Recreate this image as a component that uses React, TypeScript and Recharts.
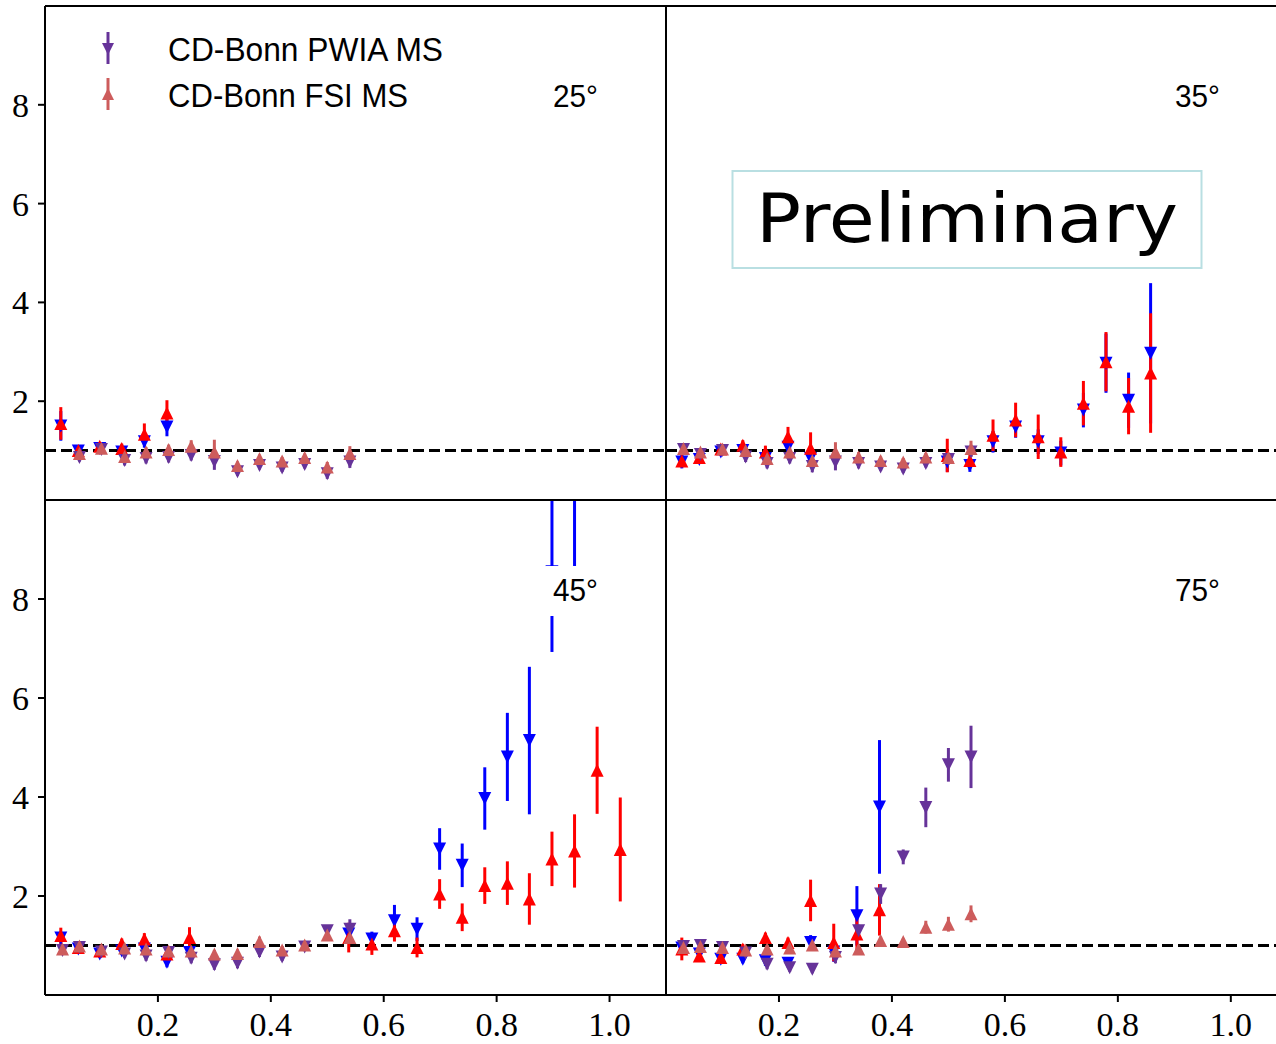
import React from "react";
import { ScatterChart, Scatter, XAxis, YAxis, ErrorBar, ReferenceLine } from "recharts";

// momentum bins (data points and model points sit slightly apart)
const X_DATA = [0.028, 0.059, 0.097, 0.136, 0.176, 0.216, 0.256, 0.297, 0.338, 0.378, 0.418, 0.458, 0.498, 0.538, 0.579, 0.619, 0.659, 0.699, 0.739, 0.779, 0.819, 0.858, 0.898, 0.938, 0.978, 1.019];
const X_MODEL = [0.031, 0.061, 0.100, 0.141, 0.179, 0.219, 0.259, 0.300, 0.341, 0.380, 0.420, 0.460, 0.500, 0.540];

const X_TICKS = [0.2, 0.4, 0.6, 0.8, 1.0];
const Y_TICKS = [2, 4, 6, 8];

// 25 deg
const D25_PWIA = [1.50, 0.99, 1.04, 0.97, 1.18, 1.48];
const D25_PWIA_ERR = [0.30, 0.08, 0.07, 0.08, 0.12, 0.19];
const D25_FSI = [1.55, 1.00, 1.09, 1.04, 1.33, 1.76];
const D25_FSI_ERR = [0.33, 0.10, 0.08, 0.10, 0.22, 0.26];
const M25_PWIA = [null, 0.86, 1.02, 0.80, 0.84, 0.86, 0.90, 0.78, 0.57, 0.70, 0.65, 0.72, 0.53, 0.77];
const M25_PWIA_ERR = [null, 0.08, 0.08, 0.10, 0.10, 0.10, 0.10, 0.17, 0.08, 0.08, 0.08, 0.08, 0.10, 0.12];
const M25_FSI = [null, 0.94, 1.05, 0.88, 0.97, 1.02, 1.09, 0.97, 0.70, 0.84, 0.79, 0.86, 0.67, 0.94];
const M25_FSI_ERR = [null, 0.08, 0.08, 0.10, 0.10, 0.10, 0.12, 0.25, 0.08, 0.08, 0.08, 0.08, 0.10, 0.15];

// 35 deg
const D35_PWIA = [0.77, 0.82, 0.97, 1.00, 0.84, 1.07, 0.84, null, null, null, null, null, 0.77, 0.70, 1.18, 1.48, 1.18, 0.95, 1.82, 2.77, 2.02, 2.97];
const D35_PWIA_ERR = [0.13, 0.08, 0.07, 0.08, 0.12, 0.12, 0.15, null, null, null, null, null, 0.20, 0.13, 0.22, 0.22, 0.25, 0.25, 0.35, 0.60, 0.56, 1.42];
const D35_FSI = [0.79, 0.86, 1.03, 1.11, 0.97, 1.28, 1.05, null, null, null, null, null, 0.90, 0.80, 1.31, 1.62, 1.28, 0.97, 1.96, 2.80, 1.90, 2.57];
const D35_FSI_ERR = [0.12, 0.08, 0.08, 0.10, 0.13, 0.20, 0.32, null, null, null, null, null, 0.34, 0.12, 0.32, 0.35, 0.45, 0.30, 0.45, 0.60, 0.57, 1.21];
const M35_PWIA = [1.02, 0.92, 1.00, 0.87, 0.74, 0.84, 0.68, 0.77, 0.74, 0.67, 0.63, 0.74, 0.82, 0.97];
const M35_PWIA_ERR = [0.08, 0.08, 0.08, 0.10, 0.10, 0.10, 0.12, 0.17, 0.10, 0.08, 0.08, 0.08, 0.10, 0.10];
const M35_FSI = [1.04, 0.97, 1.03, 1.00, 0.84, 0.97, 0.80, 0.97, 0.87, 0.80, 0.77, 0.87, 0.86, 1.04];
const M35_FSI_ERR = [0.08, 0.08, 0.08, 0.10, 0.10, 0.10, 0.12, 0.20, 0.10, 0.08, 0.08, 0.08, 0.10, 0.16];

// 45 deg
const D45_PWIA = [1.15, 0.93, 0.83, 0.89, 0.93, 0.66, 0.86, null, null, null, null, null, null, 1.23, 1.13, 1.50, 1.33, 2.95, 2.62, 3.97, 4.81, 5.14, 8.55, 10.4, null, 12.1];
const D45_PWIA_ERR = [0.12, 0.07, 0.08, 0.08, 0.10, 0.10, 0.10, null, null, null, null, null, null, 0.20, 0.15, 0.32, 0.24, 0.42, 0.44, 0.63, 0.89, 1.49, 1.62, 2.20, null, 2.12];
const D45_FSI = [1.20, 0.96, 0.89, 1.04, 1.13, 0.83, 1.16, null, null, null, null, null, null, 1.16, 1.03, 1.30, 0.96, 2.04, 1.57, 2.21, 2.26, 1.94, 2.75, 2.91, 4.54, 2.94];
const D45_FSI_ERR = [0.16, 0.08, 0.08, 0.10, 0.12, 0.12, 0.21, null, null, null, null, null, null, 0.30, 0.22, 0.22, 0.20, 0.30, 0.28, 0.37, 0.44, 0.52, 0.55, 0.74, 0.88, 1.05];
const M45_PWIA = [0.90, 0.96, 0.87, 0.83, 0.79, 0.86, 0.74, 0.61, 0.64, 0.87, 0.77, 0.97, 1.30, 1.33];
const M45_PWIA_ERR = [0.08, 0.07, 0.07, 0.08, 0.10, 0.08, 0.10, 0.10, 0.10, 0.10, 0.08, 0.06, 0.10, 0.20];
const M45_FSI = [0.93, 0.99, 0.93, 0.95, 0.93, 0.89, 0.89, 0.83, 0.84, 1.08, 0.91, 1.01, 1.21, 1.16];
const M45_FSI_ERR = [0.08, 0.07, 0.07, 0.08, 0.08, 0.08, 0.08, 0.08, 0.08, 0.10, 0.08, 0.06, 0.10, 0.12];

// 75 deg
const D75_PWIA = [0.95, 0.83, 0.72, 0.72, 0.69, 0.64, 1.06, 0.87, 1.60, 3.80];
const D75_PWIA_ERR = [0.13, 0.08, 0.08, 0.08, 0.10, 0.08, 0.15, 0.20, 0.60, 1.35];
const D75_FSI = [0.93, 0.79, 0.76, 0.93, 1.16, 1.06, 1.91, 1.06, 1.23, 1.72];
const D75_FSI_ERR = [0.23, 0.10, 0.10, 0.10, 0.10, 0.10, 0.42, 0.38, 0.37, 0.52];
const M75_PWIA = [0.98, 1.00, 0.96, 0.85, 0.62, 0.55, 0.52, 0.76, 1.30, 2.04, 2.79, 3.79, 4.65, 4.81];
const M75_PWIA_ERR = [0.10, 0.08, 0.08, 0.08, 0.10, 0.08, 0.08, 0.12, 0.12, 0.20, 0.15, 0.40, 0.34, 0.63];
const M75_FSI = [0.96, 0.98, 0.96, 0.91, 0.93, 0.95, 1.01, 0.89, 0.93, 1.10, 1.08, 1.37, 1.43, 1.64];
const M75_FSI_ERR = [0.08, 0.08, 0.08, 0.08, 0.08, 0.08, 0.08, 0.08, 0.08, 0.08, 0.06, 0.13, 0.15, 0.17];

const BLUE = "#0000ff";
const RED = "#ff0000";
const PURPLE = "#663399";
const SALMON = "#cd5c5c";

type Pt = { x: number; y: number; e: number };

function rows(xs: number[], ys: (number | null)[], es: (number | null)[]): Pt[] {
  const out: Pt[] = [];
  ys.forEach((y, i) => {
    if (y != null) out.push({ x: xs[i], y, e: es[i] ?? 0 });
  });
  return out;
}

const tri = (color: string, down: boolean, s = 6.5) => (p: any) => {
  if (p.cx == null || p.cy == null) return <g />;
  const { cx, cy } = p;
  const pts = down
    ? `${cx - s},${cy - s} ${cx + s},${cy - s} ${cx},${cy + s}`
    : `${cx - s},${cy + s} ${cx + s},${cy + s} ${cx},${cy - s}`;
  return <polygon points={pts} fill={color} />;
};
const nothing = () => <g />;

type Series = { data: Pt[]; color: string; down: boolean };

const AXIS = { stroke: "#000", strokeWidth: 2 };
const TICK_FONT = { fontFamily: "'Liberation Serif', serif", fontSize: 34, fill: "#000" };

function Panel({ left, top, width, height, yWidth, xMax, bottom, labels, series }: {
  left: number; top: number; width: number; height: number; yWidth: number; xMax: number;
  bottom: boolean; labels: boolean; series: Series[];
}) {
  return (
    <div style={{ position: "absolute", left, top }}>
      <ScatterChart width={width} height={height} margin={{ top: 0, right: labels ? 1 : 0, bottom: 0, left: 0 }}>
        <XAxis type="number" dataKey="x" domain={[0, xMax]} allowDataOverflow ticks={X_TICKS}
          height={bottom ? 48 : 1} tick={bottom ? TICK_FONT : false} tickLine={bottom ? AXIS : false}
          tickSize={7} tickMargin={10} axisLine={AXIS} tickFormatter={(v: number) => v.toFixed(1)} />
        <XAxis xAxisId="top" orientation="top" type="number" dataKey="x" domain={[0, xMax]} allowDataOverflow
          height={1} tick={false} tickLine={false} axisLine={AXIS} />
        <YAxis type="number" dataKey="y" domain={[0, 10]} allowDataOverflow ticks={Y_TICKS} width={yWidth}
          tick={labels ? TICK_FONT : false} tickLine={AXIS} tickSize={labels ? 7 : 6} tickMargin={9} axisLine={AXIS} />
        <ReferenceLine y={1} stroke="#000" strokeWidth={3} strokeDasharray="11 5" />
        {series.map((s, i) => (
          <Scatter key={"bar" + i} data={s.data} shape={nothing} isAnimationActive={false}>
            <ErrorBar dataKey="e" direction="y" width={0} stroke={s.color} strokeWidth={3} />
          </Scatter>
        ))}
        {series.map((s, i) => (
          <Scatter key={"mk" + i} data={s.data} shape={tri(s.color, s.down)} isAnimationActive={false} />
        ))}
      </ScatterChart>
    </div>
  );
}

function panelSeries(dp: any[], dpe: any[], df: any[], dfe: any[], mp: any[], mpe: any[], mf: any[], mfe: any[]): Series[] {
  return [
    { data: rows(X_DATA, dp, dpe), color: BLUE, down: true },
    { data: rows(X_DATA, df, dfe), color: RED, down: false },
    { data: rows(X_MODEL, mp, mpe), color: PURPLE, down: true },
    { data: rows(X_MODEL, mf, mfe), color: SALMON, down: false },
  ];
}

const SANS = "'Liberation Sans', Arial, sans-serif";

export default function App() {
  const s25 = panelSeries(D25_PWIA, D25_PWIA_ERR, D25_FSI, D25_FSI_ERR, M25_PWIA, M25_PWIA_ERR, M25_FSI, M25_FSI_ERR);
  const s35 = panelSeries(D35_PWIA, D35_PWIA_ERR, D35_FSI, D35_FSI_ERR, M35_PWIA, M35_PWIA_ERR, M35_FSI, M35_FSI_ERR);
  const s45 = panelSeries(D45_PWIA, D45_PWIA_ERR, D45_FSI, D45_FSI_ERR, M45_PWIA, M45_PWIA_ERR, M45_FSI, M45_FSI_ERR);
  const s75 = panelSeries(D75_PWIA, D75_PWIA_ERR, D75_FSI, D75_FSI_ERR, M75_PWIA, M75_PWIA_ERR, M75_FSI, M75_FSI_ERR);

  return (
    <div style={{ position: "absolute", left: 0, top: 0, width: 1276, height: 1044, background: "#fff", overflow: "hidden" }}>
      <Panel left={0} top={5} width={667} height={496} yWidth={45} xMax={1.1} bottom={false} labels series={s25} />
      <Panel left={650} top={5} width={626} height={496} yWidth={16} xMax={1.08} bottom={false} labels={false} series={s35} />
      <Panel left={0} top={499} width={667} height={544} yWidth={45} xMax={1.1} bottom labels series={s45} />
      <Panel left={650} top={499} width={626} height={544} yWidth={16} xMax={1.08} bottom labels={false} series={s75} />

      <svg width={1276} height={1044} style={{ position: "absolute", left: 0, top: 0, pointerEvents: "none" }}>
        {/* legend */}
        <line x1={108} y1={32} x2={108} y2={64} stroke={PURPLE} strokeWidth={3} />
        <polygon points="102,43 114,43 108,55" fill={PURPLE} />
        <text x={168} y={61} fontFamily={SANS} fontSize={33} textLength={275} lengthAdjust="spacingAndGlyphs">CD-Bonn PWIA MS</text>
        <line x1={108} y1={78} x2={108} y2={110} stroke={SALMON} strokeWidth={3} />
        <polygon points="102,100 114,100 108,88" fill={SALMON} />
        <text x={168} y={107} fontFamily={SANS} fontSize={33} textLength={240} lengthAdjust="spacingAndGlyphs">CD-Bonn FSI MS</text>

        {/* angle labels */}
        <text x={553} y={107} fontFamily={SANS} fontSize={32} textLength={45} lengthAdjust="spacingAndGlyphs">25°</text>
        <text x={1175} y={107} fontFamily={SANS} fontSize={32} textLength={45} lengthAdjust="spacingAndGlyphs">35°</text>
        <rect x={546} y={566} width={60} height={50} fill="#fff" />
        <text x={553} y={601} fontFamily={SANS} fontSize={32} textLength={45} lengthAdjust="spacingAndGlyphs">45°</text>
        <text x={1175} y={601} fontFamily={SANS} fontSize={32} textLength={45} lengthAdjust="spacingAndGlyphs">75°</text>

        {/* preliminary stamp */}
        <rect x={732.5} y={171} width={469} height={97} fill="none" stroke="#b9dfe2" strokeWidth={2} />
        <text x={756} y={242} fontFamily="'Comic Sans MS', cursive, 'DejaVu Sans'" fontSize={68}
          textLength={422} lengthAdjust="spacingAndGlyphs" fill="#000">Preliminary</text>
      </svg>
    </div>
  );
}
